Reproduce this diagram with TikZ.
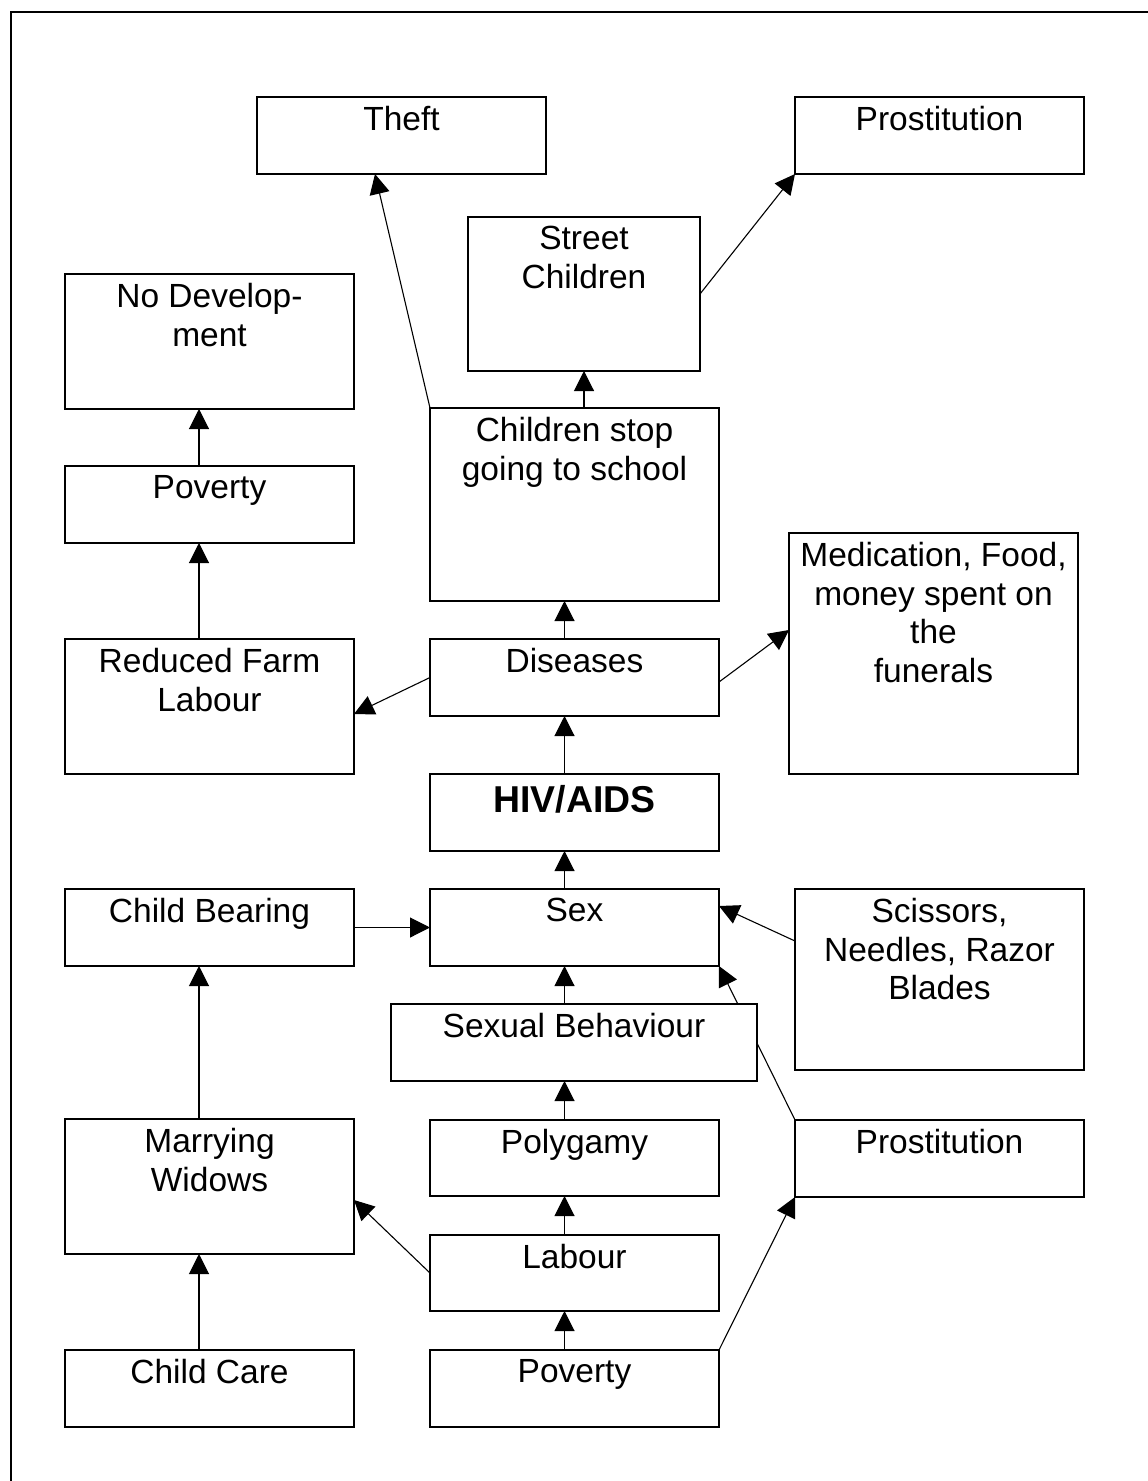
\documentclass[tikz,border=0pt]{standalone}
\usepackage{fontspec}
\setmainfont{Liberation Sans}
\usetikzlibrary{arrows.meta,calc,backgrounds}
\begin{document}
\begin{tikzpicture}[x=1pt,y=-1pt,
  box/.style={draw, line width=1.3pt, fill=white, inner sep=0pt, outer sep=0pt, anchor=north west},
  txt/.style={anchor=north, inner sep=0pt, align=center, font=\fontsize{33.5}{38.7}\selectfont},
  arr/.style={line width=1.1pt, -{Triangle[length=20pt,width=20pt]}}]
\useasboundingbox (0,0) rectangle (1148,1481);
\draw[line width=1.6pt] (1150,12) -- (11,12) -- (11,1483);

% boxes
\node[box, minimum width=289pt, minimum height=77pt] (theft) at (257,97) {};
\node[box, minimum width=289pt, minimum height=77pt] (prostA) at (795,97) {};
\node[box, minimum width=232pt, minimum height=154pt] (street) at (468,217) {};
\node[box, minimum width=289pt, minimum height=135pt] (nodev) at (65,274) {};
\node[box, minimum width=289pt, minimum height=193pt] (stop) at (430,408) {};
\node[box, minimum width=289pt, minimum height=77pt] (povA) at (65,466) {};
\node[box, minimum width=289pt, minimum height=241pt] (med) at (789,533) {};
\node[box, minimum width=289pt, minimum height=135pt] (farm) at (65,639) {};
\node[box, minimum width=289pt, minimum height=77pt] (dis) at (430,639) {};
\node[box, minimum width=289pt, minimum height=77pt] (hiv) at (430,774) {};
\node[box, minimum width=289pt, minimum height=77pt] (bear) at (65,889) {};
\node[box, minimum width=289pt, minimum height=77pt] (sex) at (430,889) {};
\node[box, minimum width=289pt, minimum height=181pt] (sciss) at (795,889) {};
\node[box, minimum width=366pt, minimum height=77pt] (sexb) at (391,1004) {};
\node[box, minimum width=289pt, minimum height=135pt] (marry) at (65,1119) {};
\node[box, minimum width=289pt, minimum height=76pt] (poly) at (430,1120) {};
\node[box, minimum width=289pt, minimum height=77pt] (prostB) at (795,1120) {};
\node[box, minimum width=289pt, minimum height=76pt] (labour) at (430,1235) {};
\node[box, minimum width=289pt, minimum height=77pt] (care) at (65,1350) {};
\node[box, minimum width=289pt, minimum height=77pt] (povB) at (430,1350) {};

% texts
\node[txt] (theft-t) at ([yshift=-9pt]theft.north) {Theft};
\node[txt] (prostA-t) at ([yshift=-9pt]prostA.north) {Prostitution};
\node[txt] (street-t) at ([yshift=-9pt]street.north) {Street\\Children};
\node[txt] (nodev-t) at ([yshift=-9pt]nodev.north) {No Develop-\\ment};
\node[txt] (stop-t) at ([yshift=-9pt]stop.north) {Children stop\\going to school};
\node[txt] (povA-t) at ([yshift=-9pt]povA.north) {Poverty};
\node[txt] (med-t) at ([yshift=-9pt]med.north) {Medication, Food,\\money spent on\\the\\funerals};
\node[txt] (farm-t) at ([yshift=-9pt]farm.north) {Reduced Farm\\Labour};
\node[txt] (dis-t) at ([yshift=-9pt]dis.north) {Diseases};
\node[txt, font=\fontsize{37.4}{43}\selectfont\bfseries] (hiv-t) at ([yshift=-11.5pt]hiv.north) {HIV/AIDS};
\node[txt] (bear-t) at ([yshift=-9pt]bear.north) {Child Bearing};
\node[txt] (sex-t) at ([yshift=-9pt]sex.north) {Sex};
\node[txt] (sciss-t) at ([yshift=-9pt]sciss.north) {Scissors,\\Needles, Razor\\Blades};
\node[txt] (sexb-t) at ([yshift=-9pt]sexb.north) {Sexual Behaviour};
\node[txt] (marry-t) at ([yshift=-9pt]marry.north) {Marrying\\Widows};
\node[txt] (poly-t) at ([yshift=-9pt]poly.north) {Polygamy};
\node[txt] (prostB-t) at ([yshift=-9pt]prostB.north) {Prostitution};
\node[txt] (labour-t) at ([yshift=-9pt]labour.north) {Labour};
\node[txt] (care-t) at ([yshift=-9pt]care.north) {Child Care};
\node[txt] (povB-t) at ([yshift=-9pt]povB.north) {Poverty};

\coordinate (cx) at (564.5,0);
\coordinate (lx) at (199,0);

\begin{pgfonlayer}{background}
\draw[arr] (stop.north west) -- ($(theft.south west)+(118,0)$);
\draw[arr] (street.east) -- (prostA.south west);
\draw[arr] (street.south |- stop.north) -- (street.south);
\draw[arr] (lx |- povA.north) -- (lx |- nodev.south);
\draw[arr] (lx |- farm.north) -- (lx |- povA.south);
\draw[arr] (cx |- dis.north) -- (cx |- stop.south);
\draw[arr] (cx |- hiv.north) -- (cx |- dis.south);
\draw[arr] (cx |- sex.north) -- (cx |- hiv.south);
\draw[arr] (dis.west) -- ($(farm.east)+(0,7.5)$);
\draw[arr] ($(dis.east)+(0,4.5)$) -- ($(med.west)+(0,-23.5)$);
\draw[arr] (bear.east) -- (sex.west);
\draw[arr] ($(sciss.north west)+(0,52)$) -- ($(sex.north east)+(0,17)$);
\draw[arr] (prostB.north west) -- (sex.south east);
\draw[arr] (cx |- sexb.north) -- (cx |- sex.south);
\draw[arr] (cx |- poly.north) -- (cx |- sexb.south);
\draw[arr] (cx |- labour.north) -- (cx |- poly.south);
\draw[arr] (cx |- povB.north) -- (cx |- labour.south);
\draw[arr] (labour.west) -- ($(marry.east)+(0,13.5)$);
\draw[arr] (povB.north east) -- (prostB.south west);
\draw[arr] (lx |- care.north) -- (lx |- marry.south);
\draw[arr] (lx |- marry.north) -- (lx |- bear.south);
\end{pgfonlayer}
\end{tikzpicture}
\end{document}
